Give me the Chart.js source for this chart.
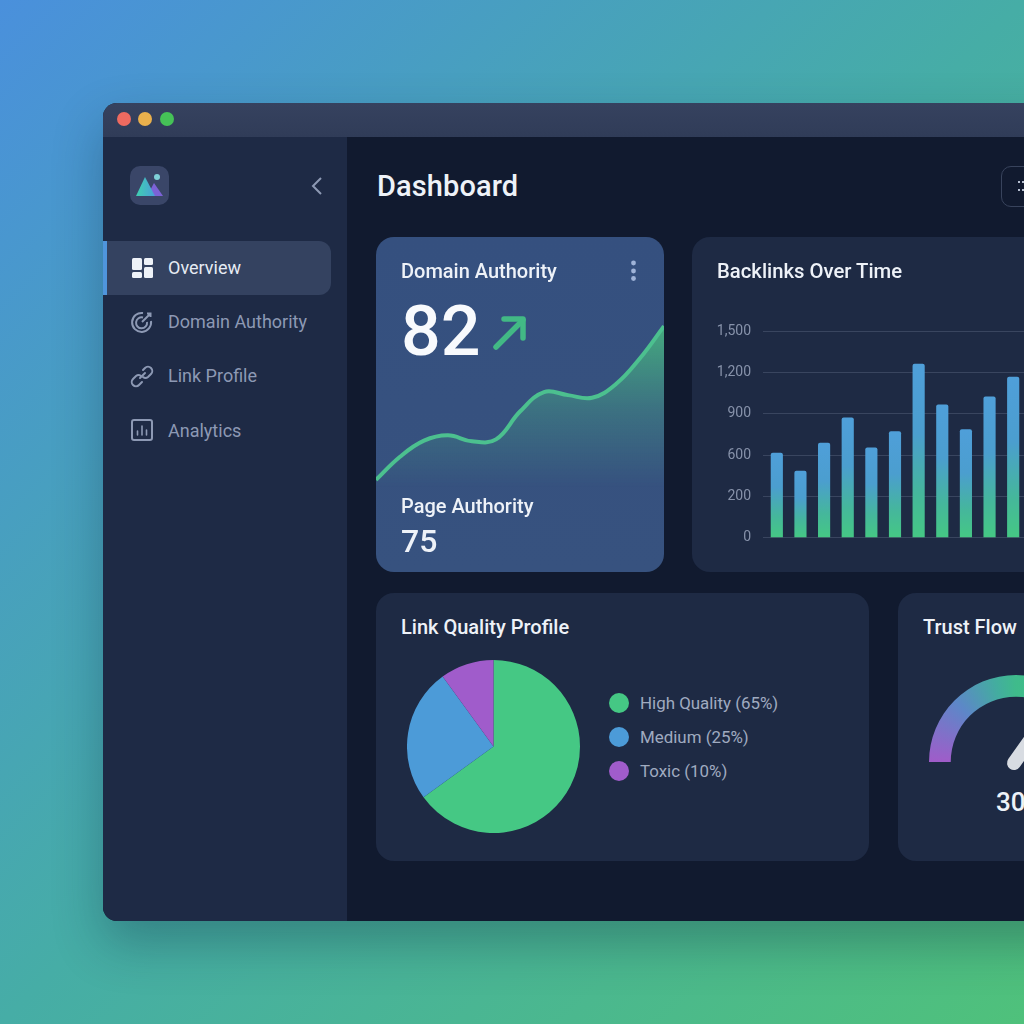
<!DOCTYPE html>
<html>
<head>
<meta charset="utf-8">
<title>Dashboard</title>
<script src="https://cdn.jsdelivr.net/npm/chart.js@4"></script>
<style>
html, body { margin: 0; width: 1024px; height: 1024px; overflow: hidden; }
body { position: relative; font-family: Roboto, sans-serif; background: linear-gradient(135deg, #4a90dc 0%, #46ada6 50%, #4fc17b 100%); }
.box, .t, canvas, svg { position: absolute; }
.t { line-height: 1; white-space: nowrap; }
canvas { display: block; }
#win { left: 103px; top: 103px; width: 1100px; height: 818px; border-radius: 14px; background: #111a2f; box-shadow: 0 22px 50px rgba(10, 30, 60, .3); }
#bar { left: 103px; top: 103px; width: 1100px; height: 34px; border-radius: 14px 14px 0 0; background: linear-gradient(#36425f, #303c58); }
#side { left: 103px; top: 137px; width: 244px; height: 784px; border-radius: 0 0 0 14px; background: #1e2a45; }
.dot { width: 14px; height: 14px; border-radius: 50%; top: 112px; }
.card { background: #1e2a44; border-radius: 18px; }
.nav { left: 168px; font-size: 18px; color: #8d99b4; }
.head { font-size: 20px; font-weight: 500; color: #eef2f8; }
.legdot { left: 609px; width: 20px; height: 20px; border-radius: 50%; }
.legtxt { left: 640px; font-size: 16.9px; color: #a0abc0; }
</style>
</head>
<body>
<div class="box" id="win"></div>
<div class="box" id="bar"></div>
<div class="box dot" style="left:117px;background:#ee6a60"></div>
<div class="box dot" style="left:138px;background:#e9b04c"></div>
<div class="box dot" style="left:160px;background:#45c257"></div>
<div class="box" id="side"></div>

<div class="box" style="left:130px;top:166px;width:39px;height:39px;border-radius:10px;background:#3a4668"></div>
<svg style="left:130px;top:166px" width="39" height="39">
  <defs><linearGradient id="mt" x1="0" x2="1"><stop offset="0" stop-color="#3fd0b0"/><stop offset="1" stop-color="#4a9fd8"/></linearGradient></defs>
  <path d="M17 30 L24 17 L33 30 Z" fill="#7c62d6"/>
  <path d="M6 30 L15 11 L25 30 Z" fill="url(#mt)"/>
  <circle cx="27" cy="11" r="3" fill="#7fd0d8"/>
</svg>
<svg style="left:308px;top:174px" width="18" height="24"><path d="M13 4 L5 12 L13 20" fill="none" stroke="#8d99b4" stroke-width="2"/></svg>

<div class="box" style="left:107px;top:241px;width:224px;height:54px;border-radius:0 12px 12px 0;background:#344260"></div>
<div class="box" style="left:103px;top:241px;width:4px;height:54px;background:#4f95dc"></div>
<svg style="left:130px;top:256px" width="24" height="24" fill="#eef2f8">
  <rect x="2" y="2" width="10" height="12" rx="1.5"/><rect x="14" y="2" width="9" height="7" rx="1.5"/>
  <rect x="2" y="16" width="10" height="6" rx="1.5"/><rect x="14" y="11" width="9" height="11" rx="1.5"/>
</svg>
<svg style="left:130px;top:310px" width="24" height="24" fill="none" stroke="#8d99b4" stroke-width="2">
  <path d="M13 3 A9.5 9.5 0 1 0 21 11"/><path d="M13 7.5 A5.5 5.5 0 1 0 17 12"/><path d="M12 12 L20 4 M17 3.5 L20.5 3.5 L20.5 7"/>
</svg>
<svg style="left:130px;top:364px" width="24" height="24" fill="none" stroke="#8d99b4" stroke-width="2" stroke-linecap="round">
  <path d="M10 14 L15 9"/><path d="M13 6 L15 4 A4 4 0 0 1 21 10 L18 13 A4 4 0 0 1 13 13"/><path d="M12 18 L9 21 A4 4 0 0 1 3 15 L6 12 A4 4 0 0 1 11 12"/>
</svg>
<svg style="left:130px;top:418px" width="24" height="24" fill="none" stroke="#8d99b4" stroke-width="2" stroke-linecap="round">
  <rect x="2" y="2" width="20" height="20" rx="2"/><path d="M7.5 17 L7.5 13 M12 17 L12 8 M16.5 17 L16.5 12" stroke-width="1.6"/>
</svg>
<div class="t nav" style="top:259px;color:#e6ebf3">Overview</div>
<div class="t nav" style="top:313px">Domain Authority</div>
<div class="t nav" style="top:367px">Link Profile</div>
<div class="t nav" style="top:422px">Analytics</div>

<div class="t" style="left:377px;top:172px;font-size:29px;font-weight:500;color:#eef2f8;letter-spacing:.1px">Dashboard</div>
<div class="box" style="left:1001px;top:166px;width:60px;height:39px;border:1.5px solid #38435c;border-radius:10px"></div>
<svg style="left:1016px;top:178px" width="9" height="16" fill="#b6bfd0">
  <rect x="2" y="3" width="2" height="2"/><rect x="6" y="3" width="2" height="2"/><rect x="2" y="11" width="2" height="2"/><rect x="6" y="11" width="2" height="2"/>
</svg>

<!-- domain authority card -->
<div class="box" style="left:376px;top:237px;width:288px;height:335px;border-radius:18px;overflow:hidden;background:linear-gradient(#35507f,#37527f)">
  <canvas id="trend" width="288" height="335" style="left:0;top:0"></canvas>
</div>
<div class="t head" style="left:401px;top:261px">Domain Authority</div>
<svg style="left:625px;top:258px" width="16" height="26" fill="#9fb3d8"><circle cx="8.5" cy="5" r="2.4"/><circle cx="8.5" cy="13" r="2.4"/><circle cx="8.5" cy="20.5" r="2.4"/></svg>
<div class="t" style="left:401px;top:296px;font-size:70px;font-weight:500;color:#f8fafd">82</div>
<svg style="left:488px;top:312px" width="42" height="42" fill="none" stroke="#42b985" stroke-width="5.5" stroke-linecap="round" stroke-linejoin="round">
  <path d="M8 35 L35 8"/><path d="M16 7 L35 7 L35 26"/>
</svg>
<div class="t head" style="left:401px;top:496px">Page Authority</div>
<div class="t" style="left:401px;top:525px;font-size:32px;font-weight:500;color:#eef2f8">75</div>

<!-- backlinks card -->
<div class="box card" style="left:692px;top:237px;width:400px;height:335px"></div>
<div class="t head" style="left:717px;top:261px;font-size:20.3px">Backlinks Over Time</div>
<canvas id="backlinks" width="325" height="247" style="left:700px;top:311px"></canvas>

<!-- link quality card -->
<div class="box card" style="left:376px;top:593px;width:493px;height:268px"></div>
<div class="t head" style="left:401px;top:617px">Link Quality Profile</div>
<canvas id="quality" width="173" height="173" style="left:407px;top:660px"></canvas>
<div id="legend"></div>

<!-- trust flow card -->
<div class="box card" style="left:898px;top:593px;width:300px;height:268px"></div>
<div class="t head" style="left:923px;top:617px">Trust Flow</div>
<canvas id="gauge" width="174" height="103" style="left:929px;top:675px"></canvas>
<div class="t" style="left:996px;top:789px;font-size:26px;font-weight:500;color:#eef2f8">30</div>

<script>
'use strict'

// values
const trendPoints = ['1', '2', '3', '4', '5', '6', '7', '8', '9', '10', '11', '12', '13']
const trendValues = [27.5, 34.4, 39.2, 40.8, 39.0, 39.6, 47.9, 53.7, 52.8, 52.0, 56.1, 63.8, 73.4]

const months = ['Jan', 'Feb', 'Mar', 'Apr', 'May', 'Jun', 'Jul', 'Aug', 'Sep', 'Oct', 'Nov']
const backlinkValues = [614, 483, 687, 871, 653, 772, 1262, 966, 786, 1024, 1167]
const tickLabels = ['0', '200', '600', '900', '1,200', '1,500']

const qualityLabels = ['High Quality', 'Medium', 'Toxic']
const qualityValues = [65, 25, 10]
const qualityColors = ['#45c884', '#4c9bd8', '#a05ccb']

const gaugeValues = [100]
const needleValue = 69

Chart.defaults.font.family = 'Roboto, sans-serif'
Chart.defaults.animation = false
Chart.defaults.responsive = false
Chart.defaults.plugins.legend.display = false
Chart.defaults.plugins.tooltip.enabled = false

// area chart in the blue card
new Chart(document.getElementById('trend'), {
  type: 'line',
  data: {
    labels: trendPoints,
    datasets: [{
      data: trendValues,
      borderColor: '#4cc08f',
      borderWidth: 4,
      pointRadius: 0,
      tension: 0.4,
      fill: 'start',
      backgroundColor: function (context) {
        const area = context.chart.chartArea
        if (!area) return 'transparent'
        const g = context.chart.ctx.createLinearGradient(0, 85, 0, 250)
        g.addColorStop(0, 'rgba(72, 190, 125, .85)')
        g.addColorStop(0.55, 'rgba(72, 175, 135, .33)')
        g.addColorStop(1, 'rgba(72, 175, 135, 0)')
        return g
      }
    }]
  },
  options: {
    layout: { padding: 0 },
    scales: {
      x: { display: false, offset: false },
      y: { display: false, min: 0, max: 100 }
    }
  }
})

// bars
new Chart(document.getElementById('backlinks'), {
  type: 'bar',
  data: {
    labels: months,
    datasets: [{
      data: backlinkValues,
      barThickness: 11.5,
      borderRadius: { topLeft: 2, topRight: 2 },
      borderSkipped: 'bottom',
      backgroundColor: function (context) {
        const chart = context.chart
        if (!chart.chartArea || context.raw === undefined) return '#4c9bd8'
        const top = chart.scales.y.getPixelForValue(context.raw)
        const g = chart.ctx.createLinearGradient(0, top, 0, chart.chartArea.bottom)
        g.addColorStop(0, '#4f9fd9')
        g.addColorStop(0.4, '#4b9ecf')
        g.addColorStop(0.75, '#45b79b')
        g.addColorStop(1, '#45c884')
        return g
      }
    }]
  },
  options: {
    layout: { padding: 0 },
    scales: {
      x: { display: false },
      y: {
        min: 0,
        max: 1500,
        afterFit: function (scale) { scale.width = 65 },
        border: { display: false },
        grid: { color: '#39455f', tickColor: '#39455f', tickLength: 2 },
        ticks: {
          stepSize: 300,
          padding: 12,
          color: '#8792aa',
          font: { size: 14 },
          callback: function (value, index) { return tickLabels[index] }
        }
      }
    }
  }
})

// pie
new Chart(document.getElementById('quality'), {
  type: 'pie',
  data: {
    labels: qualityLabels,
    datasets: [{ data: qualityValues, backgroundColor: qualityColors, borderWidth: 0 }]
  }
})

const legend = document.getElementById('legend')
qualityLabels.forEach(function (label, i) {
  const top = 703 + i * 34
  legend.insertAdjacentHTML('beforeend',
    '<div class="box legdot" style="top:' + (top - 10) + 'px;background:' + qualityColors[i] + '"></div>' +
    '<div class="t legtxt" style="top:' + (top - 8) + 'px">' + label + ' (' + qualityValues[i] + '%)</div>')
})

// needle goes on top of the half doughnut
const needle = {
  id: 'needle',
  afterDatasetsDraw: function (chart) {
    const arc = chart.getDatasetMeta(0).data[0]
    const angle = Math.PI + Math.PI * needleValue / 100
    const c = chart.ctx
    c.save()
    c.strokeStyle = '#d8dce2'
    c.lineWidth = 14
    c.lineCap = 'round'
    c.beginPath()
    c.moveTo(arc.x - 2, arc.y + 1)
    c.lineTo(arc.x + Math.cos(angle) * 52, arc.y + Math.sin(angle) * 52)
    c.stroke()
    c.restore()
  }
}

new Chart(document.getElementById('gauge'), {
  type: 'doughnut',
  plugins: [needle],
  data: {
    labels: ['Trust Flow'],
    datasets: [{
      data: gaugeValues,
      borderWidth: 0,
      backgroundColor: function (context) {
        const area = context.chart.chartArea
        if (!area) return '#45c884'
        const g = context.chart.ctx.createConicGradient(Math.PI, (area.left + area.right) / 2, area.bottom)
        g.addColorStop(0, '#a05cc9')
        g.addColorStop(0.125, '#5d87c8')
        g.addColorStop(0.21, '#43ad9f')
        g.addColorStop(0.25, '#3fbb8b')
        g.addColorStop(0.5, '#46c97f')
        g.addColorStop(1, '#a05cc9')
        return g
      }
    }]
  },
  options: {
    rotation: -90,
    circumference: 180,
    cutout: '75%',
    layout: { padding: { bottom: 16 } }
  }
})
</script>
</body>
</html>
